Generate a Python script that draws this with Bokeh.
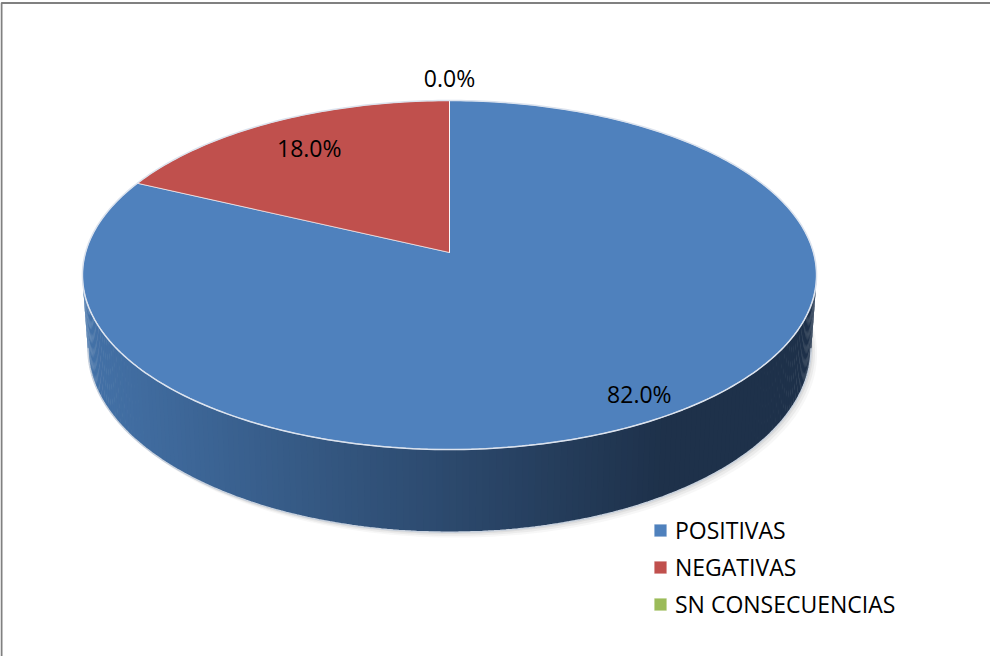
import numpy as np
from bokeh.plotting import figure
from bokeh.models import Range1d, Legend, LegendItem
from bokeh.core.properties import value
from bokeh.embed import file_html
from bokeh.resources import INLINE

# ---- data ----
categories = ["POSITIVAS", "NEGATIVAS", "SN CONSECUENCIAS"]
percentages = [82.0, 18.0, 0.0]

# ---- styles ----
colors = ["#4F81BD", "#C0504D", "#9BBB59"]
label_radius = [0.88, 0.78, 1.17]
FONT = "Open Sans"

# pie geometry (page pixel coordinates)
CX, CY = 457.0, 260.0
A, B = 364.0, 171.6
PERSP = 0.129
DEPTH = 72.0
BOTTOM_SCALE = 0.985

W, H = 990, 656


def project(theta, r=1.0):
    x = r * np.sin(theta)
    z = r * np.cos(theta)
    den = 1 + PERSP * z
    return CX + A * x / den, CY - B * z / den, den


def project_bottom(theta):
    X, Y, den = project(theta)
    return CX + (X - CX) * BOTTOM_SCALE, Y + DEPTH / den


p = figure(width=W, height=H, output_backend="svg", toolbar_location=None,
           x_range=Range1d(8, 8 + W), y_range=Range1d(8 + H, 8),
           x_axis_type=None, y_axis_type=None, min_border=0)
p.outline_line_color = None
p.background_fill_color = "white"
p.border_fill_color = "white"

# chart area frame
p.line([9, 9, 1006], [672, 10.5, 10.5], line_color="#808080", line_width=2)

# soft shadow
th_full = np.linspace(0, 2 * np.pi, 361)
bx, by = project_bottom(th_full)
for k, off in enumerate([6, 4, 2]):
    p.patch(bx + off, by + off * 0.9, fill_color="#7F7F7F", fill_alpha=0.06 + 0.03 * k,
            line_color=None)

# side wall (visible front part)
theta_l = np.arccos(-PERSP)
theta_r = 2 * np.pi - theta_l
N = 180
edges = np.linspace(theta_l, theta_r, N + 1)
light = np.array([68, 114, 168])
dark = np.array([30, 49, 74])
xs, ys, cols = [], [], []
for i in range(N):
    ta, tb = edges[i], min(edges[i + 1] + 0.004, theta_r)
    tt = np.array([ta, tb])
    tx, ty, _ = project(tt)
    bxx, byy = project_bottom(tt)
    xs.append([tx[0], tx[1], bxx[1], bxx[0]])
    ys.append([ty[0], ty[1], byy[1], byy[0]])
    xm = (tx[0] + tx[1]) / 2
    t = (xm - (CX - A)) / (2 * A)
    s = min(1.0, 1.25 * t)
    c = (light + (dark - light) * s).astype(int)
    cols.append("#%02x%02x%02x" % tuple(c))
p.patches(xs, ys, fill_color=cols, line_color=None)

# bottom rim highlight
arc = np.linspace(theta_l, theta_r, 200)
abx, aby = project_bottom(arc)
p.line(abx, aby, line_color="#C9D2DE", line_width=1.5)

# top faces
renderers = []
start = 0.0
total = sum(percentages)
for cat, v, col in zip(categories, percentages, colors):
    ang0 = 2 * np.pi * start / total
    ang1 = 2 * np.pi * (start + v) / total
    n = max(2, int(abs(ang1 - ang0) * 180 / np.pi) + 2)
    th = np.linspace(ang0, ang1, n)
    ax, ay, _ = project(th)
    px = np.concatenate([[CX], ax])
    py = np.concatenate([[CY], ay])
    r = p.patch(px, py, fill_color=col, line_color="white", line_alpha=0.6,
                line_width=1)
    renderers.append(r)
    start += v

# top rim highlight
tx_, ty_, _ = project(th_full)
p.line(tx_, ty_, line_color="#DCE3EE", line_width=1.5)

# data labels
lx, ly, lt = [], [], []
start = 0.0
for v, rr in zip(percentages, label_radius):
    mid = 2 * np.pi * (start + v / 2) / total
    X, Y, _ = project(mid, rr)
    lx.append(X)
    ly.append(Y)
    lt.append(f"{v:.1f}%")
    start += v
p.text(lx, ly, text=lt, text_align="center", text_baseline="middle",
       text_font=value(FONT), text_font_size="23px", text_color="black")

legend = Legend(items=[LegendItem(label=c, renderers=[r]) for c, r in zip(categories, renderers)],
                location=(652, 36), orientation="vertical")
legend.border_line_color = None
legend.background_fill_alpha = 0
legend.padding = 0
legend.margin = 0
legend.spacing = 5
legend.glyph_width = 16
legend.glyph_height = 16
legend.label_height = 30
legend.label_standoff = 7
legend.label_text_font = FONT
legend.label_text_font_size = "23px"
legend.label_text_color = "black"
p.add_layout(legend, "center")

open("out.html", "w").write(file_html(p, INLINE))
